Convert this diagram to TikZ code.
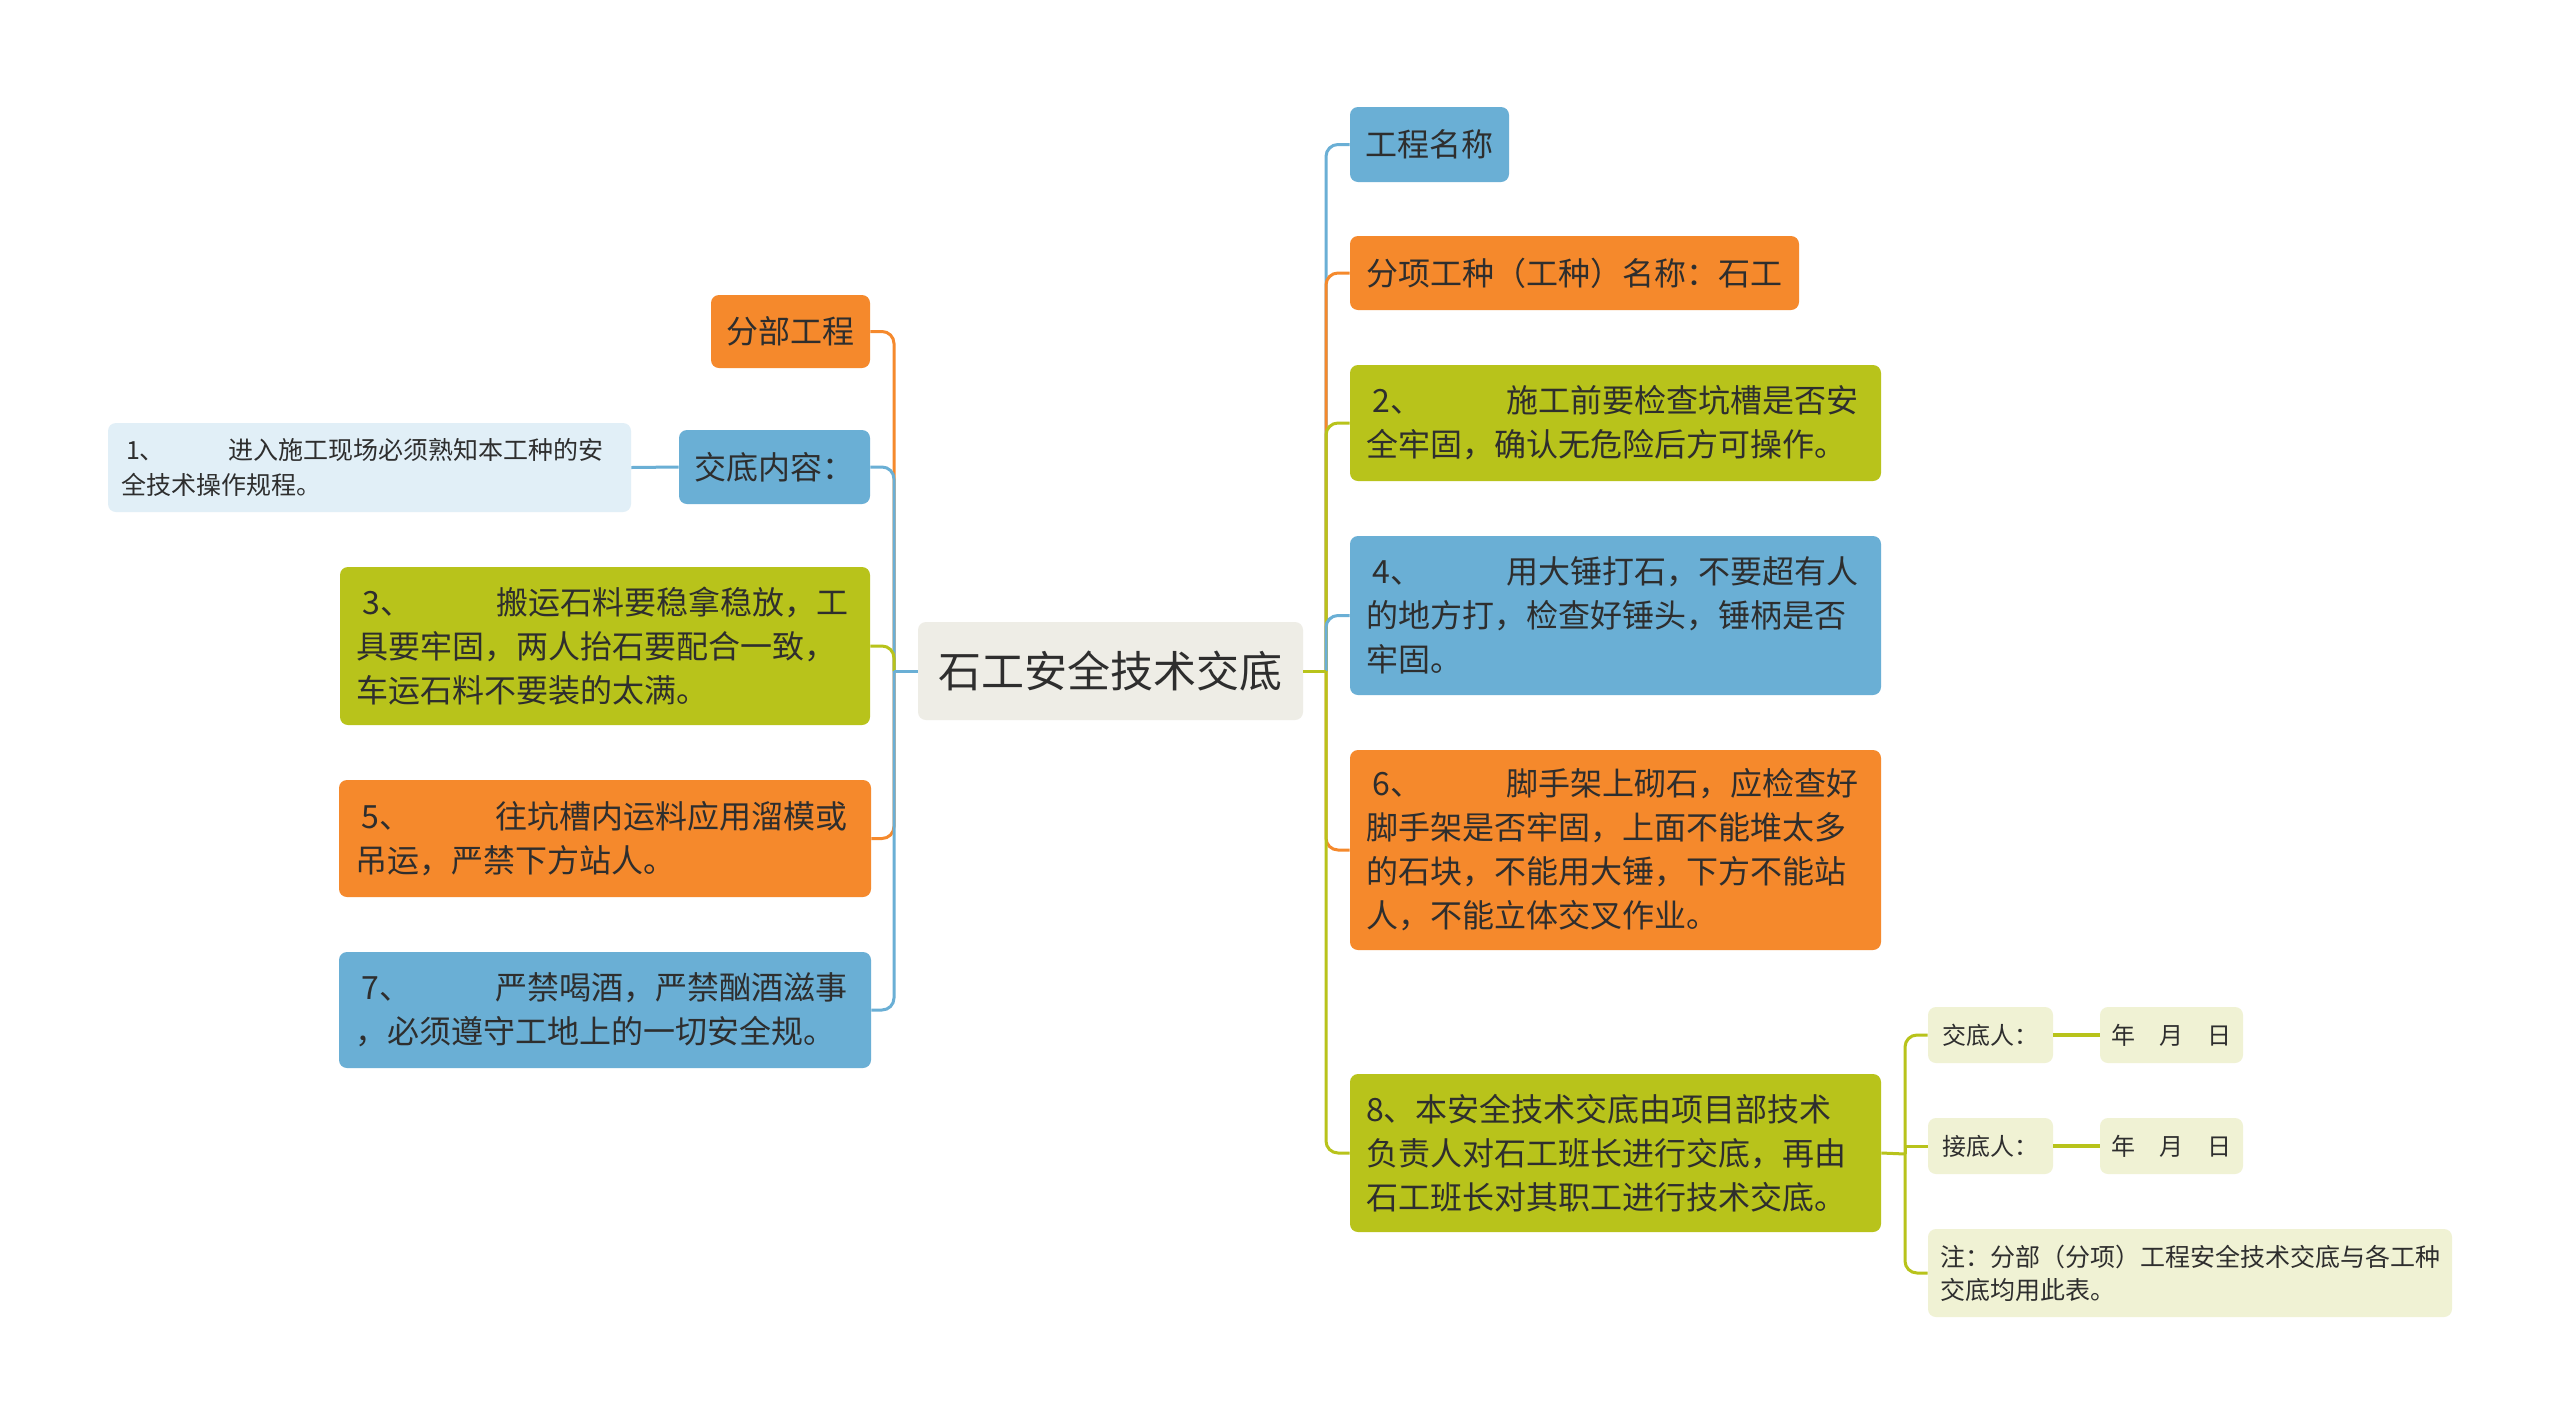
\documentclass[tikz,border=0pt]{standalone}
\usepackage{fontspec}
\setmainfont{Noto Sans CJK SC}
\definecolor{cblue}{HTML}{6AAFD5}
\definecolor{corange}{HTML}{F5892C}
\definecolor{cgreen}{HTML}{B8C31B}
\definecolor{clblue}{HTML}{E1EFF7}
\definecolor{clgreen}{HTML}{F0F2D4}
\definecolor{ccenter}{HTML}{EEEDE6}
\definecolor{ctext}{HTML}{2E2E2E}
\newcommand{\numpre}[2][4.375em]{\makebox[#1][l]{\hspace{0.2em}#2}}
\tikzset{
  box/.style={rounded corners=4pt, inner ysep=0pt, text=ctext, anchor=center},
  bigbox/.style={box, font=\fontsize{16}{22}\selectfont, align=left, inner xsep=8pt, text width=249.5pt},
  singlebox/.style={box, font=\fontsize{16}{22}\selectfont, align=center, inner xsep=0pt},
  smallbox/.style={box, font=\fontsize{12}{16}\selectfont, align=center, inner xsep=0pt, fill=clgreen},
  conn/.style={line width=1.5pt, rounded corners=6pt},
  sharpconn/.style={line width=1.5pt},
  linkconn/.style={line width=2pt, cgreen},
}
\begin{document}
\begin{tikzpicture}[x=0.5pt,y=-0.5pt]
\fill[white] (0,0) rectangle (2560,1425);
\useasboundingbox (0,0) rectangle (2560,1425);

% centre
\node[box, fill=ccenter, font=\fontsize{21.5}{26}\selectfont, minimum width=192.5pt, minimum height=49pt, inner xsep=0pt] (center) at (1110.5,671) {石工安全技术交底};

% left side
\node[singlebox, fill=corange, minimum width=79.5pt, minimum height=36.5pt] (fbgc) at (790.5,331.5) {分部工程};
\node[singlebox, fill=cblue, minimum width=95.5pt, minimum height=37pt] (jdnr) at (774.5,467) {交底内容：};
\node[box, fill=clblue, font=\fontsize{12.5}{17.5}\selectfont, align=left, inner xsep=6.5pt, text width=248.5pt, minimum height=44.5pt] (b1) at (369.5,467.5)
  {\numpre[4.3em]{1、}进入施工现场必须熟知本工种的安\\全技术操作规程。};
\node[bigbox, fill=cgreen, text width=249pt, minimum height=79pt] (b3) at (605,646)
  {\numpre{3、}搬运石料要稳拿稳放，工\\具要牢固，两人抬石要配合一致，\\车运石料不要装的太满。};
\node[bigbox, fill=corange, text width=250pt, minimum height=58.5pt] (b5) at (605,838.5)
  {\numpre{5、}往坑槽内运料应用溜模或\\吊运，严禁下方站人。};
\node[bigbox, fill=cblue, text width=250pt, minimum height=58pt] (b7) at (605,1010)
  {\numpre{7、}严禁喝酒，严禁酗酒滋事\\，必须遵守工地上的一切安全规。};

% right side
\node[singlebox, fill=cblue, minimum width=79.5pt, minimum height=37.5pt] (gcmc) at (1429.5,144.5) {工程名称};
\node[singlebox, fill=corange, minimum width=224.5pt, minimum height=37pt] (fxgz) at (1574.5,273) {分项工种（工种）名称：石工};
\node[bigbox, fill=cgreen, minimum height=58pt] (b2) at (1615.5,423)
  {\numpre{2、}施工前要检查坑槽是否安\\全牢固，确认无危险后方可操作。};
\node[bigbox, fill=cblue, minimum height=79.5pt] (b4) at (1615.5,615.5)
  {\numpre{4、}用大锤打石，不要超有人\\的地方打，检查好锤头，锤柄是否\\牢固。};
\node[bigbox, fill=corange, minimum height=100pt] (b6) at (1615.5,850)
  {\numpre{6、}脚手架上砌石，应检查好\\脚手架是否牢固，上面不能堆太多\\的石块，不能用大锤，下方不能站\\人，不能立体交叉作业。};
\node[bigbox, fill=cgreen, minimum height=79pt] (b8) at (1615.5,1153)
  {8、本安全技术交底由项目部技术\\负责人对石工班长进行交底，再由\\石工班长对其职工进行技术交底。};

% sub nodes of 8
\node[smallbox, minimum width=62.5pt, minimum height=28pt] (jdr) at (1990.5,1035) {交底人：};
\node[smallbox, minimum width=71.5pt, minimum height=28pt] (ymda) at (2171.5,1035) {年\hspace{1em}月\hspace{1em}日};
\node[smallbox, minimum width=62.5pt, minimum height=28pt] (sdr) at (1990.5,1146) {接底人：};
\node[smallbox, minimum width=71.5pt, minimum height=28pt] (ymdb) at (2171.5,1146) {年\hspace{1em}月\hspace{1em}日};
\node[box, fill=clgreen, font=\fontsize{12.5}{16.5}\selectfont, align=left, inner xsep=6pt, text width=250pt, minimum height=44pt] (note) at (2190,1273)
  {注：分部（分项）工程安全技术交底与各工种\\交底均用此表。};

% junctions
\coordinate (lj) at (894,671);
\coordinate (rj) at (1326,671);
\coordinate (sj) at (1905,1154);

% left connectors
\draw[conn,corange] (lj) |- (fbgc.east);
\draw[conn,cblue] (lj) |- (jdnr.east);
\draw[conn,cgreen] (lj) |- (b3.east);
\draw[conn,corange] (lj) |- (b5.east);
\draw[conn,cblue] (lj) |- (b7.east);
\draw[sharpconn,cblue] (center.west) -- (lj);
\draw[sharpconn,cblue] (b1.east) -- (jdnr.west);

% right connectors
\draw[conn,cblue] (rj) |- (gcmc.west);
\draw[conn,corange] (rj) |- (fxgz.west);
\draw[conn,cgreen] (rj) |- (b2.west);
\draw[conn,cblue] (rj) |- (b4.west);
\draw[conn,corange] (rj) |- (b6.west);
\draw[conn,cgreen] (rj) |- (b8.west);
\draw[sharpconn,cgreen] (center.east) -- (rj);

% sub connectors
\draw[sharpconn,cgreen] (b8.east) -- (sj);
\draw[conn,cgreen] (sj) |- (jdr.west);
\draw[sharpconn,cgreen] (sj) |- (sdr.west);
\draw[conn,cgreen] (sj) |- (note.west);
\draw[linkconn] (jdr.east) -- (ymda.west);
\draw[linkconn] (sdr.east) -- (ymdb.west);
\end{tikzpicture}
\end{document}
